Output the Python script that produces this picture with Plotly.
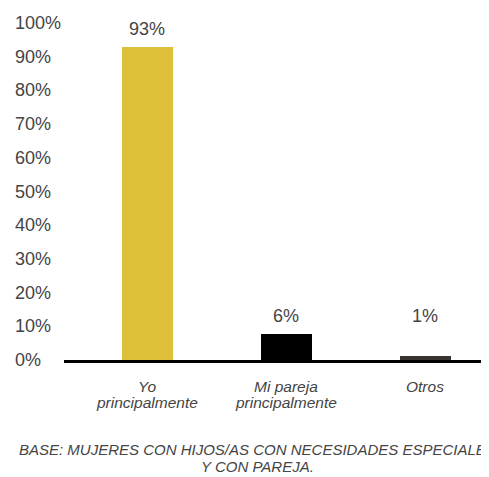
import plotly.graph_objects as go

categories = ["Yo\nprincipalmente", "Mi pareja\nprincipalmente", "Otros"]
values = [93, 7.7, 1.2]
value_labels = ["93%", "6%", "1%"]
bar_colors = ["#DDBF38", "#000000", "#3A3430"]
tick_vals = [0, 10, 20, 30, 40, 50, 60, 70, 80, 90, 100]
tick_labels = ["0%", "10%", "20%", "30%", "40%", "50%", "60%", "70%", "80%", "90%", "100%"]
footnote_lines = ["BASE: MUJERES CON HIJOS/AS CON NECESIDADES ESPECIALES", "Y CON PAREJA."]

FONT = "Liberation Sans"
TXT = "#444444"

# the page body adds an 8px margin, so the figure is 8px smaller in each direction
OFF = 8
W, H = 489 - OFF, 477 - OFF
L, R, T, B = 64 - OFF, 0, 23 - OFF, 117
plot_w = W - L - R

x_idx = list(range(len(categories)))

fig = go.Figure()
fig.add_trace(go.Bar(
    x=x_idx, y=values, marker=dict(color=bar_colors, line=dict(width=0)),
    width=0.367, hoverinfo="skip",
))

annotations = []
# value labels: placed above bar, small bars share the level of the second bar
min_label_level = values[1]
for i, (v, t) in enumerate(zip(values, value_labels)):
    annotations.append(dict(
        x=i, y=max(v, min_label_level), xref="x", yref="y", text=t,
        showarrow=False, yanchor="bottom", yshift=6,
        font=dict(family=FONT, size=18, color=TXT),
    ))

# y tick labels (left aligned)
for tv, tl in zip(tick_vals, tick_labels):
    annotations.append(dict(
        x=-(L - 5) / plot_w, y=tv, xref="paper", yref="y", text=tl,
        showarrow=False, xanchor="left", yanchor="middle",
        font=dict(family=FONT, size=18, color=TXT),
    ))

# category labels, one annotation per line (tight line spacing)
for i, c in enumerate(categories):
    lines = c.split("\n")
    for j, ln in enumerate(lines):
        annotations.append(dict(
            x=i, y=0, xref="x", yref="y", text="<i>%s</i>" % ln,
            showarrow=False, xanchor="center", yanchor="middle",
            yshift=-26 - 16 * j,
            font=dict(family=FONT, size=15.5, color=TXT),
        ))

# footnote
for j, ln in enumerate(footnote_lines):
    annotations.append(dict(
        x=(257 - 64) / plot_w, y=0, xref="paper", yref="paper",
        text="<i>%s</i>" % ln, showarrow=False,
        xanchor="center", yanchor="middle", yshift=-89 - 17 * j,
        font=dict(family=FONT, size=15, color=TXT),
    ))

fig.update_layout(
    width=W, height=H,
    margin=dict(l=L, r=R, t=T, b=B, pad=0),
    paper_bgcolor="white", plot_bgcolor="white",
    showlegend=False,
    bargap=0,
    annotations=annotations,
    xaxis=dict(
        range=[-0.6007, 2.457], showticklabels=False, ticks="",
        showgrid=False, zeroline=False,
        showline=True, linecolor="#000000", linewidth=3,
        fixedrange=True,
    ),
    yaxis=dict(
        range=[0, 100], tickvals=tick_vals, showticklabels=False,
        showgrid=False, zeroline=False, showline=False, ticks="",
        fixedrange=True,
    ),
)

fig.write_html("out.html")
